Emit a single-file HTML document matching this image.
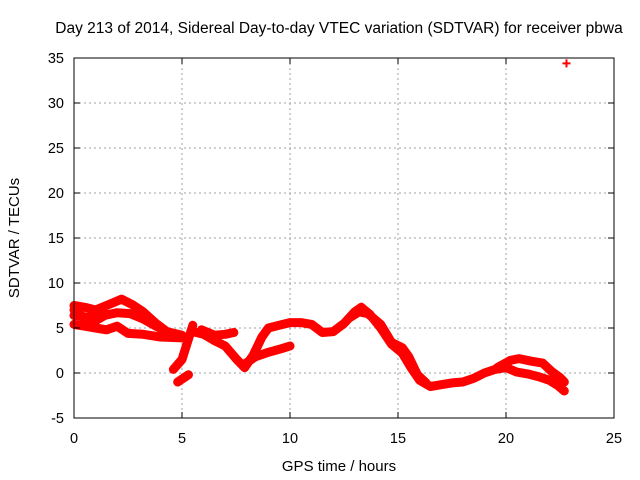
<!DOCTYPE html>
<html><head><meta charset="utf-8"><style>
body{margin:0;background:#fff;}
svg{display:block;font-family:"Liberation Sans",sans-serif;}
</style></head><body>
<svg id="chart" width="640" height="480">
<text x="339" y="33" font-size="15.5" text-anchor="middle">Day 213 of 2014, Sidereal Day-to-day VTEC variation (SDTVAR) for receiver pbwa</text>
<text x="339" y="471" font-size="15" text-anchor="middle">GPS time / hours</text>
<text transform="translate(19,238) rotate(-90)" font-size="15" text-anchor="middle">SDTVAR / TECUs</text>
<g id="grid"></g><g id="series"></g><g id="axes"></g>
</svg>
<script>
const xTicks=[0,5,10,15,20,25];
const yTicks=[-5,0,5,10,15,20,25,30,35];
const trackUpper=[[0,7.5],[0.5,7.3],[1,7],[1.6,7.6],[2.2,8.2],[2.7,7.6],[3.2,6.8],[3.8,5.5],[4.3,4.6],[5,4.2]];
const trackMiddle=[[0,6.4],[0.6,6.2],[1.2,6.3],[2,6.7],[2.6,6.6],[3.2,6],[3.8,5.2],[4.4,4.5]];
const trackFill=[[0,7],[0.3,6.5],[0.6,5.5],[1,5.8],[1.5,6.5]];
const trackLower=[[0,5.4],[0.5,5.2],[1,5],[1.5,4.8],[2,5.2],[2.5,4.4],[3.2,4.3],[4,4],[5,3.9]];
const trackMain=[[5.5,4.6],[6,4.3],[6.5,3.6],[7,3],[7.5,1.6],[7.9,0.6],[8.3,2],[8.7,4],[9,5],[9.5,5.3],[10,5.6],[10.5,5.6],[11,5.4],[11.5,4.5],[12,4.6],[12.5,5.5],[13,6.8],[13.3,7.3],[13.7,6.5],[14.2,5],[14.7,3.2],[15.2,2.2],[15.6,0.6],[16,-0.8],[16.5,-1.5],[17,-1.3],[17.5,-1.1],[18,-1],[18.5,-0.6],[19,0],[19.5,0.4],[20,0.6],[20.5,0.1],[21,-0.1],[21.5,-0.4],[22,-0.8],[22.4,-1.4],[22.7,-2]];
const trackMainHigh=[[12.8,6.2],[13.2,6.8],[13.6,6.6],[14.2,5.4],[14.7,3.4],[15.2,2.8],[15.5,1.8],[15.9,-0.2],[16.3,-1.1]];
const trackLate=[[19.6,0.6],[20.2,1.4],[20.6,1.6],[21.2,1.3],[21.7,1.1],[22.1,0.2],[22.5,-0.5],[22.7,-1]];
const trackPlateau=[[5.9,4.8],[6.5,4.2],[7,4.3],[7.4,4.5]];
const trackBranch=[[7.9,1],[8.4,1.8],[9,2.3],[9.6,2.7],[10,3]];
const trackDrop1=[[4.6,0.4],[5,1.5],[5.5,5.3]];
const trackDrop2=[[4.8,-1],[5.3,-0.2]];
const outliers=[[22.8,34.4]];
const tracks=[trackUpper,trackMiddle,trackFill,trackLower,trackMain,trackMainHigh,trackLate,trackPlateau,trackBranch,trackDrop1,trackDrop2];
const L=74,R=614,T=58,B=418,xmin=0,xmax=25,ymin=-5,ymax=35;
const X=v=>L+(v-xmin)/(xmax-xmin)*(R-L);
const Y=v=>B-(v-ymin)/(ymax-ymin)*(B-T);
const NS='http://www.w3.org/2000/svg';
const mk=(t,a,p)=>{const e=document.createElementNS(NS,t);for(const k in a)e.setAttribute(k,a[k]);p.appendChild(e);return e;};
const grid=document.getElementById('grid'),axes=document.getElementById('axes'),ser=document.getElementById('series');
xTicks.forEach(t=>{
 if(t>xmin&&t<xmax){const g=mk('line',{x1:X(t),x2:X(t),y1:T,y2:B,stroke:'#a0a0a0','stroke-dasharray':'2,3'},grid);
 
 }
 mk('line',{x1:X(t),x2:X(t),y1:B,y2:B-6,stroke:'#000'},axes);
 mk('line',{x1:X(t),x2:X(t),y1:T,y2:T+6,stroke:'#000'},axes);
 const tx=mk('text',{x:X(t),y:B+25,'font-size':14.5,'text-anchor':'middle'},axes);tx.textContent=t;
 
 
});
yTicks.forEach(t=>{
 if(t>ymin&&t<ymax){const g=mk('line',{x1:L,x2:R,y1:Y(t),y2:Y(t),stroke:'#a0a0a0','stroke-dasharray':'2,3'},grid);
 
 }
 mk('line',{x1:L,x2:L+6,y1:Y(t),y2:Y(t),stroke:'#000'},axes);
 mk('line',{x1:R,x2:R-6,y1:Y(t),y2:Y(t),stroke:'#000'},axes);
 const tx=mk('text',{x:L-10,y:Y(t)+5,'font-size':14.5,'text-anchor':'end'},axes);tx.textContent=t;
 
 
});
const box=mk('rect',{x:L,y:T,width:R-L,height:B-T,fill:'none',stroke:'#000'},axes);


tracks.forEach(tr=>{
 const p=mk('polyline',{points:tr.map(d=>X(d[0])+','+Y(d[1])).join(' '),fill:'none',stroke:'#ff0000','stroke-width':9,'stroke-linejoin':'round','stroke-linecap':'round'},ser);
 
 
});
outliers.forEach(d=>{
 const x=X(d[0]),y=Y(d[1]);
 const p=mk('path',{d:`M${x-4},${y}H${x+4}M${x},${y-4}V${y+4}`,stroke:'#ff0000','stroke-width':2},ser);
 
 
});
</script>
</body></html>
